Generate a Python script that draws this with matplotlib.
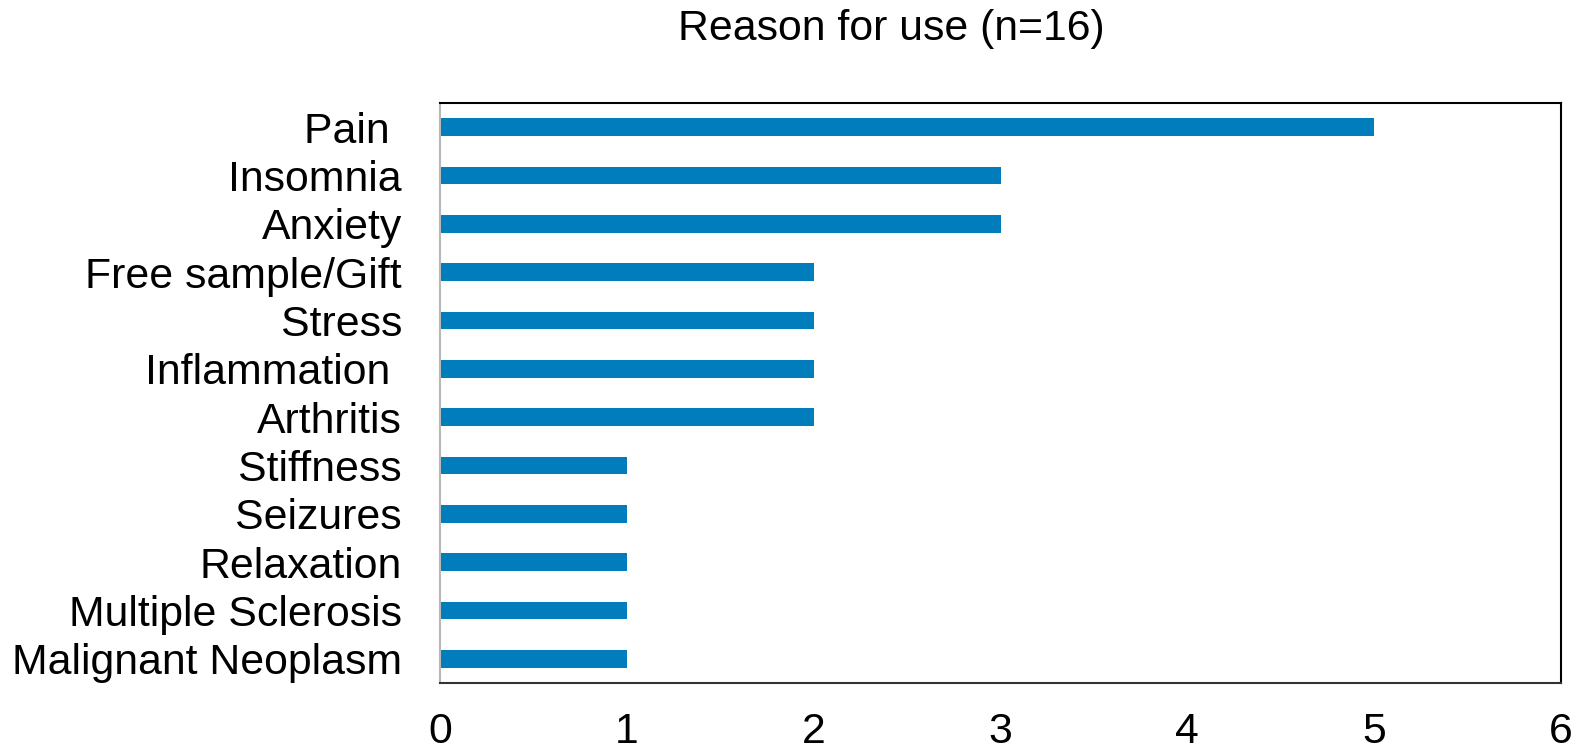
import matplotlib
matplotlib.use("Agg")
import matplotlib.pyplot as plt

plt.rcParams['font.family'] = ['Liberation Sans', 'DejaVu Sans']

categories = ["Pain ", "Insomnia", "Anxiety", "Free sample/Gift", "Stress",
              "Inflammation ", "Arthritis", "Stiffness", "Seizures",
              "Relaxation", "Multiple Sclerosis", "Malignant Neoplasm"]
counts = [5, 3, 3, 2, 2, 2, 2, 1, 1, 1, 1, 1]
x_ticks = [0, 1, 2, 3, 4, 5, 6]
title = "Reason for use (n=16)"

fig = plt.figure(figsize=(15.76, 7.52), dpi=100)
ax = fig.add_axes([440 / 1576, 1 - 683 / 752, (1561 - 440) / 1576, (683 - 103) / 752])

y = list(range(len(categories)))
ax.barh(y, counts, height=0.36, color="#027DBB", zorder=2)
ax.set_ylim(len(categories) - 0.5, -0.5)
ax.set_xlim(0, 6)
ax.set_yticks(y)
ax.set_yticklabels(categories, fontsize=30.8)
ax.set_xticks(x_ticks)
ax.set_xticklabels([str(t) for t in x_ticks], fontsize=30.8)
ax.tick_params(axis="both", length=0)
ax.tick_params(axis="y", pad=27.4)
ax.tick_params(axis="x", pad=21)

ax.spines["top"].set_color("black")
ax.spines["right"].set_color("black")
ax.spines["bottom"].set_color("#333333")
ax.spines["left"].set_color("#b8b8b8")
for s in ax.spines.values():
    s.set_linewidth(1.5)

fig.text(891 / 1576, 1 - 29 / 752, title, fontsize=30.8, ha="center", va="center")

fig.savefig("out.png", dpi=100, facecolor="white")
